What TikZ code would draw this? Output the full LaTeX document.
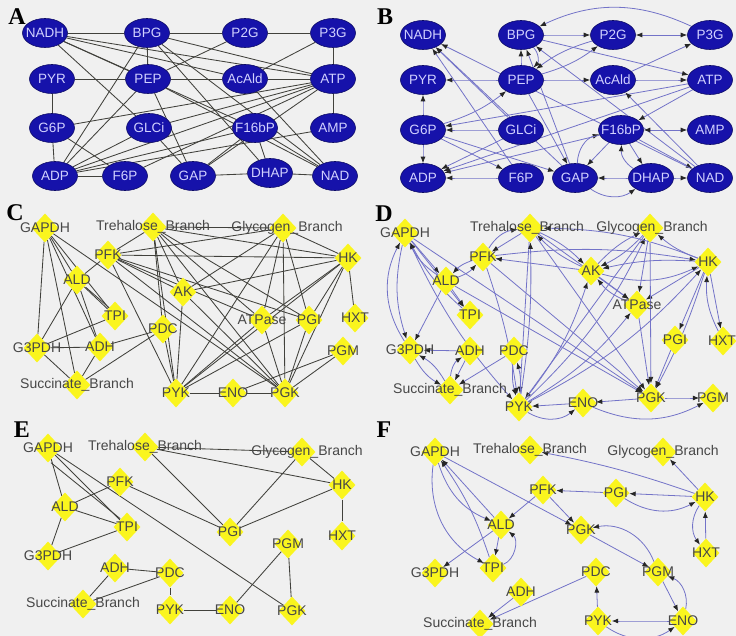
\documentclass[tikz,border=0pt]{standalone}
\usepackage{fontspec}
\setmainfont{Liberation Sans}
\newfontfamily\letterfont{Liberation Serif}
\usetikzlibrary{shapes.geometric,arrows.meta}
\pgfdeclarelayer{bg}\pgfdeclarelayer{edges}
\pgfsetlayers{bg,edges,main}
\definecolor{nodeblue}{RGB}{22,18,170}
\definecolor{ebl}{RGB}{115,115,200}
\definecolor{egr}{RGB}{65,65,60}
\definecolor{dyel}{RGB}{250,245,30}
\definecolor{bgc}{RGB}{240,240,240}
\newcommand\mkell[3]{\node[ell,label={[eltx]center:#3}] (#1) at (#2) {};}
\newcommand\mkdia[4][0pt]{\node[dia,label={[dtx,xshift=#1]center:#4}] (#2) at (#3) {};}
\begin{document}
\begin{tikzpicture}[x=1pt,y=-1pt,
 ell/.style={ellipse,fill=nodeblue,draw=nodeblue!60!black,line width=0.6pt,minimum width=45pt,minimum height=29pt,inner sep=0pt},
 eltx/.style={text=white!82!blue,font=\fontsize{13.5}{14}\selectfont,inner sep=0pt},
 dia/.style={diamond,fill=dyel,minimum width=27pt,minimum height=29pt,inner sep=0pt},
 dtx/.style={text=black!72,font=\fontsize{14}{15}\selectfont,inner sep=0pt},
 ug/.style={draw=egr,line width=0.85pt},
 dg/.style={draw=ebl,line width=0.8pt,-{Latex[length=6.5pt,width=5pt,color=black!85]}},
 dgb/.style={draw=ebl,line width=0.8pt,{Latex[length=6.5pt,width=5pt,color=black!85]}-{Latex[length=6.5pt,width=5pt,color=black!85]}},
 plet/.style={font=\letterfont\bfseries\fontsize{24}{24}\selectfont,inner sep=0pt}
]
\useasboundingbox (0,0) rectangle (736,636);
\begin{pgfonlayer}{bg}
\fill[bgc] (0,0) rectangle (736,636);
\end{pgfonlayer}

% panel letters
\node[plet] (la) at (17,17) {A};
\node[plet] (lb) at (385,17) {B};
\node[plet] (lc) at (15,213) {C};
\node[plet] (ld) at (384,214) {D};
\node[plet] (le) at (22,430) {E};
\node[plet] (lf) at (384,430) {F};

% ---------- Panel A ----------
\mkell{a-NADH}{45,33}{NADH}
\mkell{a-BPG}{147,33}{BPG}
\mkell{a-P2G}{245,33}{P2G}
\mkell{a-P3G}{333,33}{P3G}
\mkell{a-PYR}{52,79}{PYR}
\mkell{a-PEP}{148,79}{PEP}
\mkell{a-AcAld}{245,79}{AcAld}
\mkell{a-ATP}{333,79}{ATP}
\mkell{a-G6P}{52,128}{G6P}
\mkell{a-GLCi}{149,128}{GLCi}
\mkell{a-F16bP}{255,128}{F16bP}
\mkell{a-AMP}{333,128}{AMP}
\mkell{a-ADP}{55,176}{ADP}
\mkell{a-F6P}{125,176}{F6P}
\mkell{a-GAP}{193,176}{GAP}
\mkell{a-DHAP}{270,173}{DHAP}
\mkell{a-NAD}{335,176}{NAD}

% ---------- Panel B ----------
\mkell{b-NADH}{423,35}{NADH}
\mkell{b-BPG}{521,35}{BPG}
\mkell{b-P2G}{613,35}{P2G}
\mkell{b-P3G}{710,35}{P3G}
\mkell{b-PYR}{423,80}{PYR}
\mkell{b-PEP}{521,80}{PEP}
\mkell{b-AcAld}{613,80}{AcAld}
\mkell{b-ATP}{710,80}{ATP}
\mkell{b-G6P}{423,130}{G6P}
\mkell{b-GLCi}{521,130}{GLCi}
\mkell{b-F16bP}{621,130}{F16bP}
\mkell{b-AMP}{710,130}{AMP}
\mkell{b-ADP}{423,178}{ADP}
\mkell{b-F6P}{521,178}{F6P}
\mkell{b-GAP}{575,178}{GAP}
\mkell{b-DHAP}{651,178}{DHAP}
\mkell{b-NAD}{710,178}{NAD}

% ---------- Panel C ----------
\mkdia{c-GAPDH}{45,228}{GAPDH}
\mkdia{c-Tre}{153,227}{Trehalose\_Branch}
\mkdia[4pt]{c-Gly}{283,228}{Glycogen\_Branch}
\mkdia{c-PFK}{108,255}{PFK}
\mkdia{c-HK}{348,258}{HK}
\mkdia{c-ALD}{77,280}{ALD}
\mkdia{c-AK}{183,292}{AK}
\mkdia{c-TPI}{115,316}{TPI}
\mkdia{c-HXT}{355,318}{HXT}
\mkdia{c-PDC}{163,329}{PDC}
\mkdia{c-ATPase}{262,320}{ATPase}
\mkdia{c-PGI}{309,320}{PGI}
\mkdia{c-G3PDH}{37,348}{G3PDH}
\mkdia{c-ADH}{100,347}{ADH}
\mkdia{c-PGM}{343,351}{PGM}
\mkdia{c-Suc}{77,385}{Succinate\_Branch}
\mkdia{c-PYK}{176,393}{PYK}
\mkdia{c-ENO}{233,393}{ENO}
\mkdia{c-PGK}{285,393}{PGK}

% ---------- Panel D ----------
\mkdia{d-GAPDH}{405,233}{GAPDH}
\mkdia[-3pt]{d-Tre}{530,228}{Trehalose\_Branch}
\mkdia[2pt]{d-Gly}{650,228}{Glycogen\_Branch}
\mkdia{d-PFK}{483,257}{PFK}
\mkdia{d-AK}{591,271}{AK}
\mkdia{d-HK}{708,262}{HK}
\mkdia{d-ALD}{446,281}{ALD}
\mkdia{d-TPI}{470,315}{TPI}
\mkdia{d-ATPase}{637,305}{ATPase}
\mkdia{d-PGI}{675,340}{PGI}
\mkdia[-1pt]{d-HXT}{723,341}{HXT}
\mkdia{d-G3PDH}{410,350}{G3PDH}
\mkdia{d-ADH}{470,351}{ADH}
\mkdia{d-PDC}{514,351}{PDC}
\mkdia{d-Suc}{450,390}{Succinate\_Branch}
\mkdia{d-PYK}{519,407}{PYK}
\mkdia{d-ENO}{583,403}{ENO}
\mkdia{d-PGK}{651,398}{PGK}
\mkdia{d-PGM}{713,398}{PGM}

% ---------- Panel E ----------
\mkdia{e-GAPDH}{48,448}{GAPDH}
\mkdia{e-Tre}{145,447}{Trehalose\_Branch}
\mkdia[5pt]{e-Gly}{302,452}{Glycogen\_Branch}
\mkdia{e-PFK}{120,482}{PFK}
\mkdia{e-HK}{342,485}{HK}
\mkdia{e-ALD}{65,507}{ALD}
\mkdia{e-TPI}{127,527}{TPI}
\mkdia{e-PGI}{230,532}{PGI}
\mkdia{e-HXT}{342,536}{HXT}
\mkdia{e-PGM}{288,544}{PGM}
\mkdia{e-G3PDH}{48,556}{G3PDH}
\mkdia{e-ADH}{115,568}{ADH}
\mkdia{e-PDC}{170,573}{PDC}
\mkdia{e-Suc}{83,604}{Succinate\_Branch}
\mkdia{e-PYK}{170,610}{PYK}
\mkdia{e-ENO}{230,610}{ENO}
\mkdia{e-PGK}{292,611}{PGK}

% ---------- Panel F ----------
\mkdia{f-GAPDH}{435,452}{GAPDH}
\mkdia{f-Tre}{530,450}{Trehalose\_Branch}
\mkdia{f-Gly}{663,452}{Glycogen\_Branch}
\mkdia{f-PFK}{543,490}{PFK}
\mkdia{f-PGI}{616,493}{PGI}
\mkdia{f-HK}{705,497}{HK}
\mkdia{f-ALD}{501,525}{ALD}
\mkdia{f-PGK}{581,530}{PGK}
\mkdia{f-HXT}{706,553}{HXT}
\mkdia{f-G3PDH}{435,573}{G3PDH}
\mkdia{f-TPI}{493,568}{TPI}
\mkdia{f-PDC}{596,572}{PDC}
\mkdia{f-PGM}{658,572}{PGM}
\mkdia{f-ADH}{521,592}{ADH}
\mkdia{f-Suc}{480,624}{Succinate\_Branch}
\mkdia{f-PYK}{598,621}{PYK}
\mkdia{f-ENO}{683,621}{ENO}

\begin{pgfonlayer}{edges}
% A edges
\foreach \u/\v in {NADH/BPG, BPG/P2G, P2G/P3G, P3G/ATP, PYR/PEP, PEP/AcAld, AcAld/ATP, PYR/G6P, G6P/ADP, ATP/AMP, ADP/F6P, GAP/DHAP, DHAP/NAD, F16bP/DHAP, NADH/PEP, NADH/AcAld, NADH/GLCi, NADH/F16bP, NADH/ATP, BPG/PEP, BPG/ADP, BPG/ATP, BPG/NAD, BPG/DHAP, P2G/PEP, P3G/AcAld, PEP/ADP, PEP/GAP, PEP/NAD, AcAld/NAD, ATP/G6P, ATP/ADP, ATP/F6P, ATP/GAP, GLCi/GAP, G6P/F6P, F16bP/ADP, F16bP/GAP, F16bP/NAD, AMP/ADP, GLCi/ADP, ATP/GLCi}
  \draw[ug] (a-\u) -- (a-\v);

% B edges
\foreach \u/\v/\b in {P3G/BPG/-25, BPG/P2G/0, BPG/ATP/0, PEP/BPG/0, PEP/PYR/0, PEP/AcAld/0, AcAld/ATP/0, G6P/PYR/0, G6P/ADP/0, F6P/ADP/0, DHAP/GAP/0, DHAP/NAD/0, GAP/DHAP/-35, GLCi/G6P/0, ATP/G6P/0, ATP/ADP/0, ATP/F16bP/0, NAD/BPG/0, NAD/AcAld/0, GAP/NADH/0, GAP/BPG/0, F6P/NADH/0, PEP/P2G/-10, P2G/PEP/-10, BPG/PEP/45, GLCi/ADP/0, F16bP/GAP/0, F16bP/DHAP/0, DHAP/F16bP/30, GAP/F16bP/35, G6P/F6P/0, G6P/GAP/0, F16bP/ADP/0, PEP/GAP/0, AcAld/P3G/0, F16bP/NAD/0, NAD/NADH/0, GLCi/NADH/0, G6P/PEP/-10}
  \draw[dg] (b-\u) to[bend left=\b] (b-\v);
\draw[dgb] (b-P2G) -- (b-P3G);
\draw[dgb] (b-AMP) -- (b-F16bP);

% C edges
\foreach \u/\v in {GAPDH/G3PDH, GAPDH/Suc, GAPDH/ALD, GAPDH/TPI, GAPDH/ADH, GAPDH/PGK, Tre/Gly, Tre/PFK, Tre/AK, Tre/PYK, Tre/PGK, Tre/PGI, Tre/ATPase, Tre/HK, Tre/PDC, Gly/PFK, Gly/HK, Gly/PYK, Gly/PGK, Gly/PGI, Gly/ATPase, Gly/AK, PFK/HK, PFK/AK, PFK/ALD, PFK/PGI, PFK/PYK, PFK/PGK, PFK/ATPase, HK/AK, HK/HXT, HK/PGI, HK/ATPase, HK/PYK, HK/PGK, ALD/TPI, ALD/G3PDH, ALD/ADH, TPI/G3PDH, G3PDH/ADH, G3PDH/Suc, ADH/PDC, ADH/Suc, PDC/PYK, PDC/Suc, AK/PYK, AK/PGK, ATPase/PYK, ATPase/PGK, PGI/PYK, PGI/PGK, PYK/ENO, ENO/PGK, PGM/PGK, PGM/ENO}
  \draw[ug] (c-\u) -- (c-\v);
\draw[ug] ([xshift=2pt]c-ALD.south east) -- ([xshift=2pt]c-TPI.north west);

% D edges
\foreach \u/\v/\b in {GAPDH/ALD/0, GAPDH/TPI/0, GAPDH/G3PDH/-15, G3PDH/GAPDH/30, ALD/GAPDH/15, GAPDH/PGK/0, GAPDH/PYK/-8, PFK/ALD/-15, ALD/PFK/-15, PFK/Tre/25, Tre/PFK/0, AK/PFK/0, PFK/HK/8, Tre/AK/10, AK/Tre/10, AK/Gly/10, Gly/AK/10, AK/HK/-20, HK/AK/-8, AK/ATPase/0, ATPase/AK/15, HK/Gly/10, HK/PGI/0, HK/HXT/0, HXT/HK/15, HK/PGK/5, HK/ATPase/0, Tre/PGK/0, Tre/PYK/0, Tre/ATPase/0, Gly/PGK/0, Gly/PYK/0, Gly/ATPase/0, ATPase/PGK/0, PYK/ATPase/-10, PYK/AK/-10, PYK/Gly/-10, PYK/HK/-10, PYK/Tre/-5, PFK/PGK/0, PFK/PYK/5, ALD/PGK/0, PGI/PGK/0, PGK/PGM/0, PGK/ENO/0, ENO/PYK/0, PYK/ENO/-35, ENO/PGM/-25, ADH/G3PDH/0, G3PDH/Suc/-15, Suc/G3PDH/-15, ADH/Suc/0, PDC/Suc/0, PDC/PYK/-10, PYK/PDC/-10, ALD/G3PDH/0, ALD/TPI/0, HK/Tre/-10, Suc/ADH/25, TPI/GAPDH/10}
  \draw[dg] (d-\u) to[bend left=\b] (d-\v);

% E edges
\foreach \u/\v in {GAPDH/ALD, GAPDH/TPI, GAPDH/PGK, Tre/Gly, Tre/HK, Tre/PGI, Gly/HK, Gly/PGI, HK/PGI, HK/HXT, PFK/ALD, PFK/PGI, ALD/TPI, ALD/G3PDH, TPI/G3PDH, ADH/PDC, ADH/Suc, PDC/Suc, PDC/PYK, PYK/ENO, ENO/PGM, PGM/PGK}
  \draw[ug] (e-\u) -- (e-\v);
\draw[ug] ([xshift=3pt]e-GAPDH.south) -- ([yshift=1pt]e-TPI.north west);

% F edges
\foreach \u/\v/\b in {GAPDH/ALD/-25, ALD/GAPDH/0, GAPDH/TPI/-35, TPI/GAPDH/-8, GAPDH/PGK/0, PFK/PGK/0, HK/Tre/-4, HK/Gly/0, HK/PGI/0, PGI/PFK/0, PGI/HK/-30, HK/HXT/-35, HXT/HK/0, PFK/ALD/0, ALD/G3PDH/0, ALD/TPI/0, TPI/ALD/-60, PGK/PGM/0, PGM/PGK/-40, PGM/ENO/0, ENO/PGM/-40, ENO/PYK/0, PYK/ENO/-35, PYK/PDC/0, PDC/Suc/0, ADH/Suc/0}
  \draw[dg] (f-\u) to[bend left=\b] (f-\v);
\end{pgfonlayer}
\end{tikzpicture}
\end{document}
